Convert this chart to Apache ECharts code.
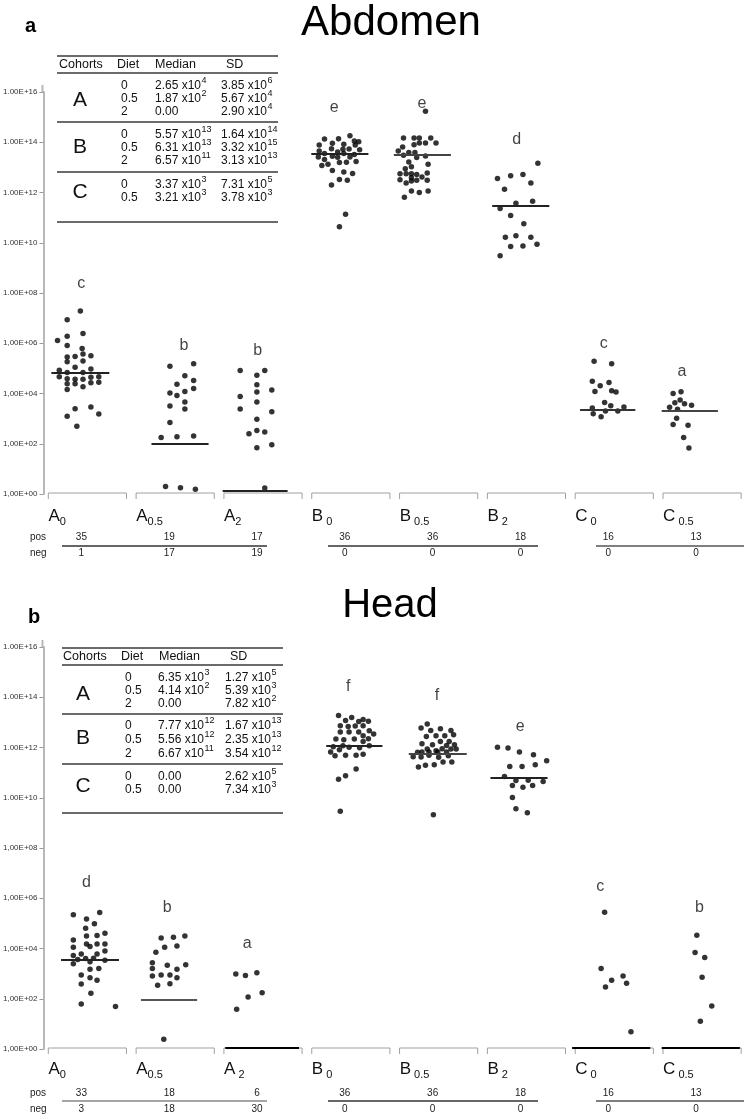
<!DOCTYPE html>
<html><head><meta charset="utf-8">
<script src="https://cdn.jsdelivr.net/npm/echarts@6/dist/echarts.min.js"></script>
<style>html,body{margin:0;padding:0;background:#fff}#c{width:750px;height:1119px}</style>
</head><body><div id="c"></div>
<script>
// ---------- DATA ----------
const groupMain = ['A','A','A','B','B','B','C','C'];
const groupSub  = ['0','0.5','2','0','0.5','2','0','0.5'];
const abdLabelGap  = [false,false,false,true,true,true,true,true];
const headLabelGap = [false,false,true,true,true,true,true,true];
const yTickExp = [0,2,4,6,8,10,12,14,16];
const yLabelsAbd  = ['1,00E+00','1,00E+02','1,00E+04','1,00E+06','1.00E+08','1.00E+10','1.00E+12','1.00E+14','1.00E+16'];
const yLabelsHead = ['1,00E+00','1,00E+02','1,00E+04','1,00E+06','1,00E+08','1.00E+10','1.00E+12','1.00E+14','1.00E+16'];

// dots: [x position on group axis, log10(value)]
const abdA0 = [[0.42,7.28],[0.27,6.94],[0.45,6.39],[0.27,6.28],[0.16,6.11],[0.27,5.91],[0.44,5.79],[0.27,5.45],[0.36,5.47],[0.45,5.57],[0.54,5.50],[0.27,5.26],[0.45,5.29],[0.36,5.04],[0.18,4.93],[0.27,4.84],[0.45,4.84],[0.54,4.98],[0.18,4.67],[0.27,4.59],[0.36,4.57],[0.45,4.57],[0.54,4.65],[0.63,4.67],[0.27,4.39],[0.36,4.39],[0.54,4.43],[0.63,4.45],[0.45,4.27],[0.27,4.16],[0.36,3.39],[0.54,3.46],[0.27,3.09],[0.63,3.18],[0.38,2.70]];
const abdA05 = [[1.44,5.08],[1.71,5.18],[1.61,4.71],[1.71,4.52],[1.52,4.37],[1.61,4.08],[1.44,4.02],[1.52,3.92],[1.71,4.20],[1.61,3.66],[1.44,3.50],[1.61,3.38],[1.44,2.85],[1.34,2.25],[1.52,2.28],[1.71,2.31],[1.39,0.30],[1.56,0.25],[1.73,0.19]];
const abdA2 = [[2.24,4.92],[2.52,4.92],[2.43,4.73],[2.43,4.35],[2.24,3.88],[2.43,4.06],[2.60,4.14],[2.24,3.38],[2.43,3.66],[2.60,3.27],[2.43,2.98],[2.34,2.40],[2.43,2.53],[2.52,2.47],[2.43,1.84],[2.60,1.96],[2.52,0.24]];
const abdB0 = [[3.20,14.13],[3.36,14.14],[3.49,14.26],[3.14,13.89],[3.29,13.96],[3.42,13.92],[3.54,14.05],[3.59,14.02],[3.14,13.65],[3.28,13.74],[3.41,13.72],[3.48,13.73],[3.55,13.89],[3.60,13.70],[3.20,13.55],[3.35,13.61],[3.42,13.55],[3.54,13.51],[3.13,13.41],[3.29,13.44],[3.49,13.41],[3.20,13.31],[3.35,13.40],[3.17,13.07],[3.24,13.12],[3.45,13.20],[3.56,13.23],[3.37,13.19],[3.29,12.88],[3.42,12.82],[3.52,12.76],[3.37,12.52],[3.46,12.49],[3.28,12.30],[3.44,11.13],[3.37,10.64]];
const abdB05 = [[4.35,15.23],[4.10,14.17],[4.22,14.17],[4.28,14.17],[4.41,14.17],[4.22,13.90],[4.28,13.97],[4.35,13.97],[4.47,13.97],[4.09,13.81],[4.04,13.65],[4.16,13.59],[4.23,13.59],[4.10,13.48],[4.35,13.45],[4.16,13.21],[4.25,13.39],[4.19,13.02],[4.12,12.95],[4.38,13.12],[4.06,12.75],[4.13,12.75],[4.19,12.75],[4.25,12.72],[4.37,12.78],[4.19,12.59],[4.31,12.62],[4.06,12.51],[4.13,12.38],[4.19,12.46],[4.25,12.49],[4.37,12.49],[4.19,12.06],[4.28,12.00],[4.38,12.06],[4.11,11.81]];
const abdB2 = [[5.63,13.16],[5.17,12.56],[5.32,12.67],[5.46,12.72],[5.55,12.38],[5.25,12.13],[5.57,11.65],[5.38,11.57],[5.20,11.36],[5.32,11.08],[5.47,10.76],[5.26,10.22],[5.38,10.28],[5.55,10.22],[5.62,9.94],[5.32,9.85],[5.46,9.87],[5.20,9.48]];
const abdC0 = [[6.27,5.28],[6.47,5.18],[6.25,4.49],[6.34,4.31],[6.44,4.44],[6.28,4.08],[6.47,4.11],[6.52,4.06],[6.39,3.64],[6.46,3.51],[6.25,3.42],[6.61,3.46],[6.40,3.30],[6.54,3.30],[6.26,3.19],[6.35,3.07]];
const abdC05 = [[7.17,4.00],[7.26,4.07],[7.19,3.63],[7.25,3.74],[7.30,3.59],[7.13,3.45],[7.38,3.53],[7.22,3.37],[7.21,3.01],[7.17,2.77],[7.34,2.74],[7.29,2.25],[7.35,1.83]];

const headA0 = [[0.34,5.34],[0.64,5.43],[0.49,5.17],[0.58,4.99],[0.48,4.81],[0.70,4.61],[0.34,4.34],[0.49,4.50],[0.61,4.52],[0.49,4.18],[0.61,4.18],[0.70,4.18],[0.34,4.05],[0.53,4.08],[0.70,3.90],[0.34,3.72],[0.43,3.78],[0.48,3.60],[0.39,3.56],[0.53,3.47],[0.57,3.61],[0.61,3.78],[0.70,3.53],[0.34,3.39],[0.63,3.20],[0.53,3.17],[0.43,2.95],[0.53,2.84],[0.61,2.74],[0.43,2.59],[0.54,2.22],[0.43,1.79],[0.82,1.69]];
const headA05 = [[1.34,4.42],[1.48,4.45],[1.61,4.50],[1.38,4.05],[1.52,4.10],[1.28,3.85],[1.24,3.43],[1.41,3.33],[1.62,3.35],[1.24,3.20],[1.52,3.17],[1.24,2.91],[1.34,2.95],[1.44,2.95],[1.52,2.84],[1.30,2.54],[1.44,2.60],[1.37,0.39]];
const headA2 = [[2.19,2.99],[2.30,2.93],[2.43,3.03],[2.33,2.07],[2.49,2.24],[2.20,1.58]];
const headB0 = [[3.36,13.27],[3.44,13.07],[3.51,13.19],[3.59,13.03],[3.64,13.11],[3.70,13.04],[3.38,12.87],[3.47,12.84],[3.55,12.86],[3.64,12.87],[3.71,12.67],[3.76,12.54],[3.38,12.62],[3.48,12.62],[3.59,12.62],[3.64,12.47],[3.70,12.35],[3.33,12.34],[3.42,12.31],[3.54,12.34],[3.64,12.24],[3.71,12.07],[3.30,12.03],[3.41,12.07],[3.48,12.01],[3.60,11.99],[3.27,11.82],[3.37,11.91],[3.44,11.69],[3.56,11.69],[3.64,11.73],[3.32,11.67],[3.36,10.74],[3.44,10.88],[3.56,11.14],[3.38,9.46]];
const headB05 = [[4.30,12.78],[4.37,12.94],[4.41,12.68],[4.52,12.75],[4.64,12.68],[4.36,12.44],[4.47,12.47],[4.57,12.47],[4.67,12.51],[4.31,12.15],[4.43,12.11],[4.52,12.24],[4.62,12.24],[4.68,12.11],[4.37,11.94],[4.47,11.87],[4.54,11.95],[4.64,11.94],[4.70,11.94],[4.26,11.81],[4.31,11.82],[4.39,11.82],[4.49,11.82],[4.59,11.82],[4.21,11.63],[4.30,11.62],[4.39,11.69],[4.50,11.61],[4.61,11.67],[4.27,11.22],[4.35,11.29],[4.45,11.31],[4.55,11.42],[4.65,11.42],[4.44,9.32],[4.59,12.08]];
const headB2 = [[5.17,12.01],[5.29,11.98],[5.42,11.82],[5.58,11.71],[5.73,11.47],[5.31,11.24],[5.45,11.24],[5.60,11.31],[5.25,10.85],[5.38,10.69],[5.52,10.70],[5.69,10.65],[5.34,10.49],[5.46,10.42],[5.57,10.49],[5.34,10.01],[5.38,9.56],[5.51,9.40]];
const headC0 = [[6.39,5.44],[6.35,3.20],[6.47,2.74],[6.60,2.91],[6.40,2.47],[6.64,2.62],[6.69,0.69]];
const headC05 = [[7.44,4.53],[7.42,3.84],[7.53,3.64],[7.50,2.86],[7.61,1.71],[7.48,1.10]];

// medians: log10 level and horizontal extent on the group axis
const abdMedianExp  = [4.84, 2.01, 0.13, 13.53, 13.49, 11.49, 3.37, 3.33];
const abdMedianSpan = [[0.09,0.75],[1.23,1.88],[2.04,2.78],[3.05,3.70],[3.99,4.64],[5.11,5.76],[6.11,6.74],[7.04,7.68]];
const headMedianExp  = [3.56, 1.97, 0.03, 12.06, 11.75, 10.78, 0.03, 0.03];
const headMedianSpan = [[0.20,0.86],[1.11,1.75],[2.07,2.91],[3.22,3.86],[4.16,4.82],[5.09,5.74],[6.02,6.91],[7.04,7.93]];

// significance letters
const abdLetters = ['c','b','b','e','e','d','c','a'];
const abdLetterX = [0.43,1.60,2.44,3.31,4.31,5.39,6.38,7.27];
const abdLetterExp = [8.39,5.92,5.69,15.39,15.55,14.12,6.00,4.89];
const headLetters = ['d','b','a','f','f','e','c','b'];
const headLetterX = [0.49,1.41,2.32,3.47,4.48,5.43,6.34,7.47];
const headLetterExp = [6.61,5.62,4.18,14.42,14.06,12.83,6.45,5.62];

// pos / neg counts
const abdPos = [35,19,17,36,36,18,16,13];
const abdNeg = [1,17,19,0,0,0,0,0];
const headPos = [33,18,6,36,36,18,16,13];
const headNeg = [3,18,30,0,0,0,0,0];

// tables
const tblCohorts = ['A','B','C'];
const tblDiets = [['0','0.5','2'],['0','0.5','2'],['0','0.5']];
const abdTblMedian = [[['2.65','4'],['1.87','2'],['0.00','']],[['5.57','13'],['6.31','13'],['6.57','11']],[['3.37','3'],['3.21','3']]];
const abdTblSD     = [[['3.85','6'],['5.67','4'],['2.90','4']],[['1.64','14'],['3.32','15'],['3.13','13']],[['7.31','5'],['3.78','3']]];
const headTblMedian = [[['6.35','3'],['4.14','2'],['0.00','']],[['7.77','12'],['5.56','12'],['6.67','11']],[['0.00',''],['0.00','']]];
const headTblSD     = [[['1.27','5'],['5.39','3'],['7.82','2']],[['1.67','13'],['2.35','13'],['3.54','12']],[['2.62','5'],['7.34','3']]];

// ---------- CHART ----------
const FONT = '"Liberation Sans", Arial, sans-serif';
const chart = echarts.init(document.getElementById('c'), null, {renderer:'canvas'});
const abdAll = [abdA0,abdA05,abdA2,abdB0,abdB05,abdB2,abdC0,abdC05].flat();
const headAll = [headA0,headA05,headA2,headB0,headB05,headB2,headC0,headC05].flat();
const AXIS_COLOR = '#b8b8b8';

function yAxis(gi, labels){
  return {type:'value', gridIndex:gi, min:0, max:16, interval:2,
    axisLine:{show:true, lineStyle:{color:AXIS_COLOR, width:2}},
    axisTick:{show:true, length:4, lineStyle:{color:'#999'}},
    splitLine:{show:false},
    axisLabel:{fontSize:8, color:'#333', fontFamily:FONT, margin:6,
      formatter:v=>labels[yTickExp.indexOf(v)] || ''}};
}
function xAxis(gi){ return {type:'value', gridIndex:gi, min:0, max:8, show:false}; }
function medianLines(exps, spans, colors){
  return exps.map((e,i)=>[{coord:[spans[i][0],e], lineStyle:{color:colors[i], width:2, type:'solid'}},{coord:[spans[i][1],e]}]);
}
function baseSeries(ai){
  return {type:'custom', xAxisIndex:ai, yAxisIndex:ai, silent:true, z:1,
    data: groupMain.map((g,i)=>[i,0]), encode:{x:0,y:1},
    renderItem(params, api){
      const i = api.value(0);
      const a = api.coord([i+0.5-0.445, 0]);
      const b = api.coord([i+0.5+0.445, 0]);
      return {type:'polyline', shape:{points:[[a[0],a[1]+5],[a[0],a[1]-1],[b[0],b[1]-1],[b[0],b[1]+5]]},
        style:{stroke:'#a0a0a0', lineWidth:1, fill:null}};
    }};
}
function letterSeries(ai, letters, xs, exps){
  return {type:'scatter', xAxisIndex:ai, yAxisIndex:ai, symbolSize:0, silent:true,
    data: letters.map((l,i)=>({name:l, value:[xs[i], exps[i]]})),
    label:{show:true, position:'inside', formatter:p=>p.name, fontSize:16, color:'#111', fontFamily:FONT}};
}

const option = {
  animation:false,
  backgroundColor:'#fff',
  grid:[{left:42, right:4, top:92, bottom:625},{left:42, right:4, top:647, bottom:70}],
  xAxis:[xAxis(0), xAxis(1)],
  yAxis:[yAxis(0, yLabelsAbd), yAxis(1, yLabelsHead)],
  series:[
    baseSeries(0), baseSeries(1),
    {type:'scatter', xAxisIndex:0, yAxisIndex:0, data:abdAll, symbol:'circle', symbolSize:5.5, itemStyle:{color:'#000'}, z:3,
      markLine:{silent:true, symbol:['none','none'], label:{show:false}, animation:false,
        data: medianLines(abdMedianExp, abdMedianSpan, ['#222','#222','#222','#222','#444','#222','#333','#444'])}},
    {type:'scatter', xAxisIndex:1, yAxisIndex:1, data:headAll, symbol:'circle', symbolSize:5.5, itemStyle:{color:'#000'}, z:3,
      markLine:{silent:true, symbol:['none','none'], label:{show:false}, animation:false,
        data: medianLines(headMedianExp, headMedianSpan, ['#222','#555','#000','#222','#444','#222','#000','#000'])}},
    letterSeries(0, abdLetters, abdLetterX, abdLetterExp),
    letterSeries(1, headLetters, headLetterX, headLetterExp)
  ]
};
chart.setOption(option);

// ---------- ANNOTATIONS ----------
const mctx = document.createElement('canvas').getContext('2d');
function tw(t, f){ mctx.font = f; return mctx.measureText(t).width; }
function F(s, w){ return (w?w+' ':'') + s + 'px ' + FONT; }
function T(x, y, text, size, opt){
  opt = opt || {};
  const align = opt.align || 'left';
  return {type:'text', x, y, silent:true, z:10,
    style:{text, font:F(size, opt.weight), fill:opt.color||'#111', align, verticalAlign:'middle', textAlign:align, textVerticalAlign:'middle'}};
}
function L(x1,y1,x2,y2,color,w){
  return {type:'line', silent:true, z:10, shape:{x1,y1,x2,y2}, style:{stroke:color, lineWidth:w}};
}
function sci(els, x, y, pair){
  const base = pair[1] ? pair[0] + ' x10' : pair[0];
  els.push(T(x, y, base, 12));
  if (pair[1]) els.push(T(x + tw(base, F(12)) + 0.5, y - 5, pair[1], 9));
}
function table(els, Ly, med, sd){
  [Ly.top, Ly.hdr, ...Ly.seps, Ly.bottom].forEach(y=>els.push(L(Ly.x0, y, Ly.x1, y, '#3a3a3a', 1.3)));
  els.push(T(Ly.col[0], Ly.head, 'Cohorts', 12.5));
  els.push(T(Ly.col[1], Ly.head, 'Diet', 12.5));
  els.push(T(Ly.col[2], Ly.head, 'Median', 12.5));
  els.push(T(Ly.col[3], Ly.head, 'SD', 12.5));
  tblCohorts.forEach((c, gi)=>{
    els.push(T(Ly.letterX, Ly.letterY[gi], c, 21, {align:'center'}));
    tblDiets[gi].forEach((d, ri)=>{
      const y = Ly.rows[gi][ri];
      els.push(T(Ly.val[0], y, d, 12));
      sci(els, Ly.val[1], y, med[gi][ri]);
      sci(els, Ly.val[2], y, sd[gi][ri]);
    });
  });
}
function bottomRows(els, cx, gaps, labY, posY, neY, lineY, pos, neg, lineColors){
  groupMain.forEach((g, i)=>{
    const left = cx[i] - 39;
    const gap = gaps[i] ? ' ' : '';
    els.push({type:'text', x:left, y:labY, silent:true, z:10,
      style:{text:'{m|' + g + '}{s|' + gap + groupSub[i] + '}', fill:'#111', verticalAlign:'middle', textVerticalAlign:'middle',
        rich:{m:{fontSize:17, fontFamily:FONT, lineHeight:18, verticalAlign:'bottom'},
              s:{fontSize:11, fontFamily:FONT, lineHeight:12, verticalAlign:'bottom', padding:[0,0,-2,0]}}}});
    els.push(T(cx[i] - 6, posY, String(pos[i]), 10, {align:'center', color:'#222'}));
    els.push(T(cx[i] - 6, neY, String(neg[i]), 10, {align:'center', color:'#222'}));
  });
  els.push(T(30, posY, 'pos', 10, {color:'#222'}));
  els.push(T(30, neY, 'neg', 10, {color:'#222'}));
  els.push(L(62, lineY, 267, lineY, lineColors[0], 1.3));
  els.push(L(328, lineY, 538, lineY, lineColors[1], 1.3));
  els.push(L(596, lineY, 744, lineY, lineColors[2], 1.3));
}

const cx = groupMain.map((g,i)=>chart.convertToPixel({xAxisIndex:0}, i + 0.5));
const els = [];
// short continuation of the value axes above their top tick
[0,1].forEach(ai=>{
  const top = chart.convertToPixel({yAxisIndex:ai}, 16);
  const ax = chart.convertToPixel({xAxisIndex:ai}, 0) - 1;
  els.push(L(ax, top - 7, ax, top, AXIS_COLOR, 2));
});
els.push(T(391, 23, 'Abdomen', 42, {align:'center', color:'#000'}));
els.push(T(390, 606, 'Head', 40, {align:'center', color:'#000'}));
els.push(T(25, 26, 'a', 20, {weight:'bold', color:'#000'}));
els.push(T(28, 617, 'b', 20, {weight:'bold', color:'#000'}));
table(els, {x0:57, x1:278, top:56, head:65, hdr:73, seps:[122,172], bottom:222,
  rows:[[86,99,112],[135,148,161],[185,198]], letterX:80, letterY:[100,147,192],
  col:[59,117,155,226], val:[121,155,221]}, abdTblMedian, abdTblSD);
table(els, {x0:62, x1:283, top:648, head:657, hdr:665, seps:[714,764], bottom:813,
  rows:[[678,691,704],[726,740,754],[777,790]], letterX:83, letterY:[694,738,786],
  col:[63,121,159,230], val:[125,158,225]}, headTblMedian, headTblSD);
bottomRows(els, cx, abdLabelGap, 516, 537, 553, 546, abdPos, abdNeg, ['#333','#333','#555']);
bottomRows(els, cx, headLabelGap, 1069, 1093, 1109, 1101, headPos, headNeg, ['#888','#333','#555']);
chart.setOption({graphic:{elements:els}});
</script>
</body></html>
